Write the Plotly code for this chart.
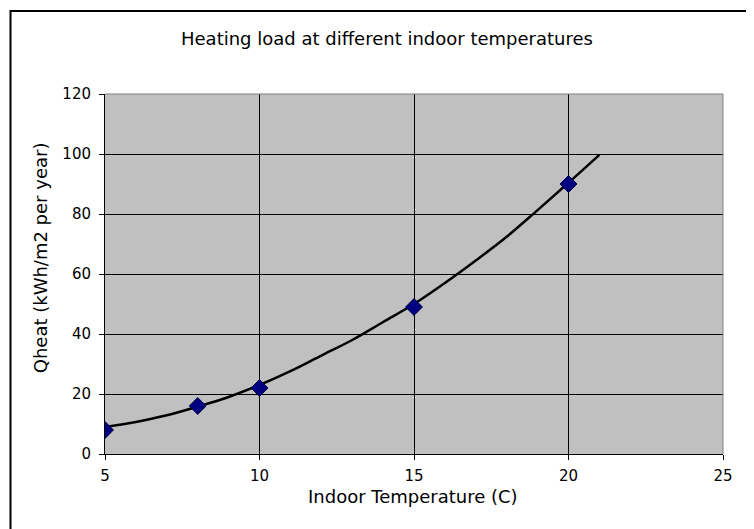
import plotly.graph_objects as go

# Measured points
temp_pts = [5, 8, 10, 15, 20]
qheat_pts = [8, 16, 22, 49, 90]

# Trend curve
curve_x = [5, 6, 7, 8, 9, 10, 11, 12, 13, 14, 15, 16, 17, 18, 19, 20, 21]
curve_y = [9.0, 10.7, 12.9, 15.8, 19.0, 23.0, 27.6, 32.8, 38.0, 44.0, 50.0, 57.0, 64.5, 72.4, 81.3, 90.4, 99.7]

x_ticks = [5, 10, 15, 20, 25]
y_ticks = [0, 20, 40, 60, 80, 100, 120]

title_text = "Heating load at different indoor temperatures"
x_title = "Indoor Temperature (C)"
y_title = "Qheat (kWh/m2 per year)"

OFF = 8  # page body margin
W, H = 754, 529
# plot area in screen pixels: x 105..723, y 93.5..454
L = 105 - OFF
T = 93.5 - OFF
R = W - (723 - OFF)
B = H - (454 - OFF)
pw = W - L - R
ph = H - T - B

def sx(px):  # screen px -> paper x
    return (px - OFF - L) / pw

def sy(py):  # screen px -> paper y
    return (H - B - (py - OFF)) / ph

FONT = "DejaVu Sans"

fig = go.Figure()
fig.add_trace(go.Scatter(
    x=curve_x, y=curve_y, mode="lines",
    line=dict(color="black", width=2.5, shape="spline"),
    hoverinfo="skip", showlegend=False))
fig.add_trace(go.Scatter(
    x=temp_pts, y=qheat_pts, mode="markers",
    marker=dict(symbol="diamond", size=13, color="#000080",
                line=dict(color="#000040", width=1)),
    showlegend=False))

fig.update_layout(
    width=W, height=H,
    margin=dict(l=L, r=R, t=T, b=B, pad=0),
    paper_bgcolor="white", plot_bgcolor="#C0C0C0",
    font=dict(family=FONT, size=13, color="black"),
    showlegend=False,
    xaxis=dict(range=[5, 25], tickvals=x_ticks, ticktext=[str(v) for v in x_ticks],
               showgrid=True, gridcolor="black", gridwidth=1,
               showline=True, linecolor="black", linewidth=1,
               ticks="outside", ticklen=5, tickcolor="black",
               ticklabelstandoff=3,
               zeroline=False, tickfont=dict(size=15), fixedrange=True),
    yaxis=dict(range=[0, 120], tickvals=y_ticks, ticktext=[str(v) for v in y_ticks],
               showgrid=True, gridcolor="black", gridwidth=1,
               showline=True, linecolor="black", linewidth=1,
               ticks="outside", ticklen=5, tickcolor="black",
               ticklabelstandoff=5,
               zeroline=False, tickfont=dict(size=15), fixedrange=True),
)

# plot area top/right border (gray)
fig.add_shape(type="line", xref="paper", yref="paper", x0=0, x1=1, y0=1, y1=1,
              line=dict(color="#808080", width=1))
fig.add_shape(type="line", xref="paper", yref="paper", x0=1, x1=1, y0=0, y1=1,
              line=dict(color="#808080", width=1))
# outer chart border (extends past window on right/bottom)
fig.add_shape(type="rect", xref="paper", yref="paper",
              x0=sx(10.5), x1=sx(790), y0=sy(580), y1=sy(10.5),
              line=dict(color="black", width=2), fillcolor="rgba(0,0,0,0)", layer="above")

fig.add_annotation(text=title_text, xref="paper", yref="paper",
                   x=sx(387), y=sy(38), xanchor="center", yanchor="middle",
                   showarrow=False, font=dict(size=18))
fig.add_annotation(text=x_title, xref="paper", yref="paper",
                   x=sx(413), y=sy(497), xanchor="center", yanchor="middle",
                   showarrow=False, font=dict(size=18))
fig.add_annotation(text=y_title, xref="paper", yref="paper",
                   x=sx(40), y=sy(258), xanchor="center", yanchor="middle",
                   showarrow=False, textangle=-90, font=dict(size=18))

fig.write_html("out.html")
